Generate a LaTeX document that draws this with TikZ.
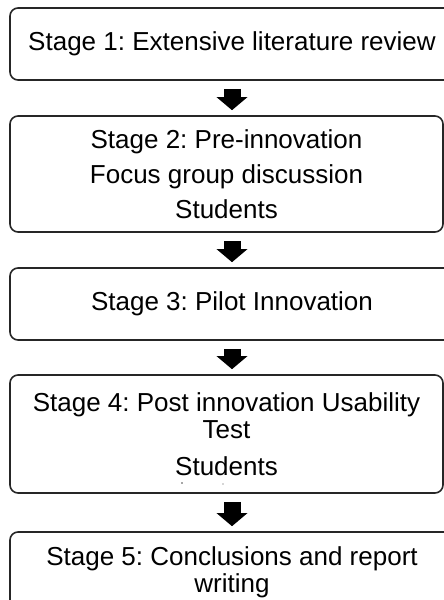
\documentclass[tikz,border=0pt]{standalone}
\usepackage{fontspec}
\setmainfont{Liberation Sans}
\usetikzlibrary{arrows.meta}
\frenchspacing
\hyphenpenalty=10000
\exhyphenpenalty=10000

\begin{document}
\begin{tikzpicture}[x=1pt, y=-1pt,
    stage/.style={draw=black!85, line width=1.6pt, rounded corners=8pt,
      align=flush center, text width=420pt, inner sep=0pt,
      font=\fontsize{26}{27}\selectfont},
    flow/.style={line width=17pt, -{Triangle[width=30pt,length=13pt]},
      shorten <=8pt, shorten >=5pt}]
  \useasboundingbox (0,0) rectangle (444,600);

  % 1. Caixas das etapas, de cima para baixo
  \node[stage, minimum width=444pt, minimum height=72pt]  (e1) at (232,44)
    {Stage 1: Extensive literature review};
  \node[stage, minimum width=433pt, minimum height=116pt] (e2) at (226.5,174)
    {Stage 2: Pre-innovation\\[8pt] Focus group discussion\\[8pt] Students};
  \node[stage, minimum width=444pt, minimum height=72pt]  (e3) at (232,304)
    {Stage 3: Pilot Innovation};
  \node[stage, minimum width=433pt, minimum height=118pt] (e4) at (226.5,434)
    {Stage 4: Post innovation Usability Test\\[10pt] Students};
  \node[stage, minimum width=444pt, minimum height=80pt]  (e5) at (232,572)
    {Stage 5: Conclusions and report writing};

  % pontinhos soltos dentro da etapa 4
  \fill[black!70] (182,483) circle (0.9pt) (223,484) circle (0.7pt);

  % 2. Setas grossas entre etapas consecutivas, todas no mesmo eixo
  \coordinate (eixo) at (232,0);
  \foreach \a/\b in {e1/e2, e2/e3, e3/e4, e4/e5}
    \draw[flow] (\a.south -| eixo) -- (\b.north -| eixo); % seta de \a para \b
\end{tikzpicture}
\end{document}
